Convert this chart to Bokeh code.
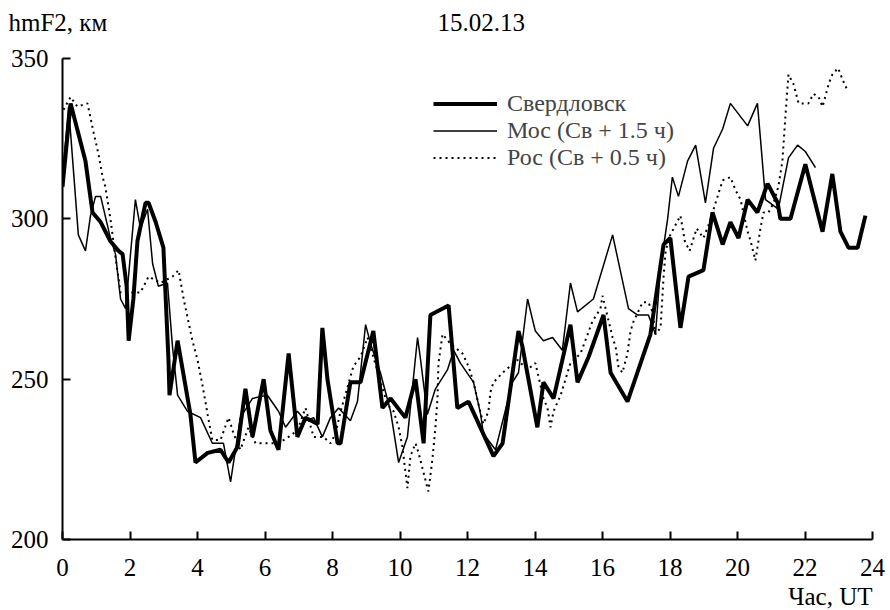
from bokeh.plotting import figure
from bokeh.models import Range1d, FixedTicker, Label, Legend, LegendItem
from bokeh.embed import file_html
from bokeh.resources import INLINE

# ---- data ----
sv_hours = [0.00, 0.24, 0.68, 0.89, 1.13, 1.42, 1.66, 1.78, 1.90, 1.96, 2.10, 2.22, 2.46, 2.55,
            2.76, 2.99, 3.14, 3.17, 3.41, 3.79, 3.94, 4.30, 4.68, 4.92, 5.19, 5.42, 5.63, 5.96,
            6.16, 6.40, 6.70, 6.96, 7.20, 7.56, 7.70, 7.85, 8.15, 8.24, 8.53, 8.83, 9.21, 9.48,
            9.72, 10.16, 10.46, 10.70, 10.90, 11.44, 11.70, 12.03, 12.77, 13.04, 13.51, 13.63,
            14.07, 14.25, 14.55, 15.05, 15.26, 15.59, 16.03, 16.24, 16.74, 17.42, 17.81, 18.01,
            18.31, 18.55, 18.99, 19.26, 19.56, 19.79, 20.03, 20.30, 20.59, 20.89, 21.19, 21.27,
            21.57, 22.01, 22.52, 22.81, 23.05, 23.29, 23.56, 23.79]
sv_values = [310, 336, 318, 302, 299, 293, 290, 289, 279, 262, 275, 293, 305, 305,
             299, 291, 256, 245, 262, 239, 224, 227, 228, 224, 229, 247, 232, 250,
             234, 228, 258, 232, 238, 236, 266, 250, 230, 230, 249, 249, 265, 241,
             244, 238, 250, 230, 270, 273, 241, 243, 226, 230, 265, 260,
             235, 249, 244, 267, 249, 257, 270, 252, 243, 264, 292, 294,
             266, 282, 284, 302, 292, 299, 294, 306, 302, 311, 305, 300,
             300, 317, 296, 314, 296, 291, 291, 301]

mos_hours = [0.00, 0.18, 0.47, 0.68, 0.83, 0.98, 1.13, 1.42, 1.57, 1.72, 1.87, 2.16, 2.31, 2.52,
             2.67, 2.84, 3.11, 3.26, 3.41, 3.70, 4.09, 4.44, 4.77, 4.98, 5.27, 5.63, 6.07, 6.40,
             6.61, 6.96, 7.20, 7.44, 7.70, 7.94, 8.18, 8.53, 8.74, 8.98, 9.13, 9.42, 9.72, 9.96,
             10.22, 10.52, 10.61, 10.81, 11.05, 11.41, 11.59, 11.79, 12.18, 12.39, 12.47, 12.83,
             13.33, 13.51, 13.78, 14.01, 14.25, 14.52, 14.81, 15.05, 15.26, 15.73, 16.30, 16.77,
             17.04, 17.36, 17.57, 17.72, 17.93, 18.07, 18.25, 18.52, 18.76, 19.05, 19.29, 19.56,
             19.79, 20.30, 20.59, 20.68, 20.83, 21.21, 21.51, 21.78, 22.01, 22.31]
mos_values = [313, 335, 295, 290, 301, 307, 307, 294, 289, 275, 272, 306, 297, 303,
              286, 279, 280, 260, 245, 240, 238, 230, 230, 218, 238, 244, 245, 240,
              235, 240, 237, 238, 232, 238, 241, 237, 243, 267, 261, 252, 240, 224,
              232, 263, 256, 239, 247, 253, 259, 255, 249, 239, 233, 228,
              249, 252, 275, 265, 262, 263, 259, 280, 271, 275, 295, 272,
              270, 270, 264, 285, 300, 313, 307, 318, 323, 305, 322, 328,
              336, 329, 336, 325, 306, 303, 319, 323, 321, 316]

ros_hours = [0.03, 0.24, 0.44, 0.74, 0.92, 1.07, 1.19, 1.27, 1.42, 1.57, 1.72, 2.10, 2.31, 2.55,
             2.90, 3.26, 3.44, 3.59, 3.73, 3.85, 4.00, 4.15, 4.30, 4.44, 4.68, 4.92, 5.07, 5.27,
             5.51, 5.72, 6.01, 6.40, 6.70, 6.96, 7.20, 7.44, 7.73, 7.94, 8.09, 8.24, 8.62, 8.83,
             9.04, 9.63, 9.81, 9.96, 10.07, 10.22, 10.31, 10.46, 10.55, 10.67, 10.84, 10.96,
             11.05, 11.11, 11.14, 11.26, 11.50, 11.85, 12.03, 12.18, 12.33, 12.47, 12.62, 12.68,
             12.77, 13.04, 13.48, 13.78, 14.01, 14.10, 14.25, 14.37, 14.46, 14.55, 14.76, 15.05,
             15.35, 15.70, 15.94, 16.00, 16.30, 16.39, 16.47, 16.59, 16.74, 16.83, 16.92, 17.19,
             17.36, 17.48, 17.57, 17.72, 17.81, 17.87, 18.01, 18.31, 18.44, 18.58, 18.79, 18.99,
             19.14, 19.44, 19.56, 19.79, 19.94, 20.09, 20.30, 20.39, 20.53, 20.68, 20.77, 20.92,
             21.07, 21.21, 21.33, 21.42, 21.51, 21.66, 21.81, 22.10, 22.25, 22.40, 22.52, 22.70,
             22.81, 22.98, 23.13, 23.26]
ros_values = [334, 338, 335, 336, 327, 320, 313, 310, 300, 288, 277, 277, 277, 282,
              280, 282, 284, 275, 268, 262, 256, 248, 239, 231, 231, 238, 233, 228,
              235, 230, 230, 230, 232, 234, 241, 232, 232, 230, 233, 240, 254, 257,
              263, 242, 240, 235, 229, 216, 226, 230, 227, 222, 215, 225,
              235, 244, 255, 264, 261, 258, 254, 249, 242, 236, 240, 246,
              249, 252, 256, 253, 255, 251, 244, 241, 235, 240, 245, 255,
              258, 268, 272, 276, 263, 260, 254, 252, 258, 265, 268, 274,
              274, 271, 264, 266, 282, 290, 295, 301, 293, 290, 297, 294,
              298, 308, 312, 313, 309, 306, 296, 293, 287, 297, 302, 302,
              305, 310, 318, 332, 345, 342, 336, 336, 339, 338, 335, 342,
              345, 347, 343, 340]

x_ticks = [0, 2, 4, 6, 8, 10, 12, 14, 16, 18, 20, 22, 24]
y_ticks = [200, 250, 300, 350]

SERIF = "Liberation Serif"
FS = "25px"

p = figure(width=890, height=610, output_backend="svg", toolbar_location=None,
           x_range=Range1d(0, 24), y_range=Range1d(200, 350),
           min_border_left=62, min_border_right=18, min_border_top=58, min_border_bottom=71)
p.outline_line_color = None
p.grid.visible = False
p.background_fill_color = "white"
p.border_fill_color = "white"

for ax in (p.xaxis[0], p.yaxis[0]):
    ax.axis_line_width = 2
    ax.axis_line_color = "black"
    ax.major_tick_in = 8
    ax.major_tick_out = 0
    ax.major_tick_line_width = 2
    ax.minor_tick_line_color = None
    ax.major_label_text_font = SERIF
    ax.major_label_text_font_size = FS
    ax.major_label_text_color = "black"
p.xaxis[0].ticker = FixedTicker(ticks=x_ticks)
p.yaxis[0].ticker = FixedTicker(ticks=y_ticks)
p.xaxis[0].major_label_standoff = 19
p.yaxis[0].major_label_standoff = 14

r_sv = p.line(sv_hours, sv_values, line_color="black", line_width=4)
r_mos = p.line(mos_hours, mos_values, line_color="black", line_width=1.5)
r_ros = p.line(ros_hours, ros_values, line_color="black", line_width=2, line_dash="2 4")

legend = Legend(items=[LegendItem(label="Свердловск", renderers=[r_sv]),
                       LegendItem(label="Мос (Св + 1.5 ч)", renderers=[r_mos]),
                       LegendItem(label="Рос (Св + 0.5 ч)", renderers=[r_ros])],
                location=(371, 368), orientation="vertical",
                background_fill_alpha=0, border_line_color=None,
                padding=0, margin=0, spacing=0,
                glyph_width=64, glyph_height=25, label_height=25, label_standoff=10,
                label_text_font=SERIF, label_text_font_size="24px")
p.add_layout(legend, "center")

# header/footer texts, positioned on the canvas; hosted in the side panels
for txt, sx, sy, align, side in [("hmF2, км", 8, 22, "left", "above"),
                                 ("15.02.13", 437, 22, "left", "above"),
                                 ("Час, UT", 872, 596, "right", "below")]:
    p.add_layout(Label(x=sx, y=sy, x_units="canvas", y_units="canvas", text=txt,
                       text_font=SERIF, text_font_size=FS, text_color="black",
                       text_baseline="middle", text_align=align, text_line_height=0.6), side)

open("out.html", "w").write(file_html(p, INLINE))
